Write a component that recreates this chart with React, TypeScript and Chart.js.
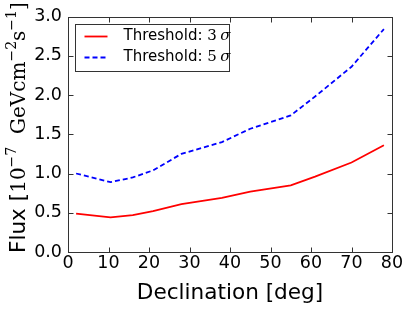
import React, { useEffect, useRef } from "react";
import { Chart, registerables } from "chart.js";

Chart.register(...registerables);

const declination = [2, 10.5, 16, 21, 28, 38, 45, 55, 61, 70, 78];
const flux3 = [0.49, 0.44, 0.47, 0.52, 0.61, 0.69, 0.77, 0.85, 0.96, 1.14, 1.36];
const flux5 = [1.0, 0.89, 0.95, 1.04, 1.25, 1.4, 1.57, 1.74, 1.98, 2.36, 2.84];
const seriesLabels = ["Threshold: 3 σ", "Threshold: 5 σ"];
const xTitle = "Declination [deg]";

const SANS = "'DejaVu Sans', sans-serif";
const SERIF = "'DejaVu Serif', serif";

const framePlugin = {
  id: "framePlugin",
  afterDraw(chart: any) {
    const ctx = chart.ctx;
    const { left, right, top, bottom } = chart.chartArea;
    const xs = chart.scales.x;
    const ys = chart.scales.y;
    ctx.save();
    ctx.strokeStyle = "#333";
    ctx.lineWidth = 1;
    const L = Math.round(left) + 0.5;
    const R = Math.round(right) + 0.5;
    const T = Math.round(top) + 0.5;
    const B = Math.round(bottom) + 0.5;
    ctx.strokeRect(L, T, R - L, B - T);
    const tl = 5;
    ctx.beginPath();
    xs.ticks.forEach((t: any) => {
      const px = Math.round(xs.getPixelForValue(t.value)) + 0.5;
      ctx.moveTo(px, B);
      ctx.lineTo(px, B - tl);
      ctx.moveTo(px, T);
      ctx.lineTo(px, T + tl);
    });
    ys.ticks.forEach((t: any) => {
      const py = Math.round(ys.getPixelForValue(t.value)) + 0.5;
      ctx.moveTo(L, py);
      ctx.lineTo(L + tl, py);
      ctx.moveTo(R, py);
      ctx.lineTo(R - tl, py);
    });
    ctx.stroke();

    // Y axis label with mathtext-like segments
    const segs: Array<{ t: string; f: string; dy: number }> = [
      { t: "Flux [", f: `21.6px ${SANS}`, dy: 0 },
      { t: "10", f: `20px ${SERIF}`, dy: 0 },
      { t: "−7", f: `14px ${SERIF}`, dy: -9 },
      { t: "  GeVcm", f: `20px ${SERIF}`, dy: 0 },
      { t: "−2", f: `14px ${SERIF}`, dy: -9 },
      { t: "s", f: `20px ${SERIF}`, dy: 0 },
      { t: "−1", f: `14px ${SERIF}`, dy: -9 },
      { t: "]", f: `20px ${SERIF}`, dy: 0 },
    ];
    ctx.translate(25, 253);
    ctx.rotate(-Math.PI / 2);
    ctx.fillStyle = "#000";
    ctx.textBaseline = "alphabetic";
    ctx.textAlign = "left";
    let x = 0;
    segs.forEach((s) => {
      ctx.font = s.f;
      ctx.fillText(s.t, x, s.dy);
      x += ctx.measureText(s.t).width;
    });
    ctx.restore();

    // Legend
    ctx.save();
    const bx = Math.round(left) + 7.5;
    const by = Math.round(top) + 7.5;
    const bw = 154;
    const bh = 47;
    ctx.fillStyle = "#fff";
    ctx.fillRect(bx, by, bw, bh);
    ctx.strokeStyle = "#333";
    ctx.lineWidth = 1;
    ctx.strokeRect(bx, by, bw, bh);
    chart.data.datasets.forEach((ds: any, i: number) => {
      const ly = by + 12 + i * 21;
      ctx.strokeStyle = ds.borderColor;
      ctx.lineWidth = ds.borderWidth;
      ctx.setLineDash(ds.borderDash || []);
      ctx.beginPath();
      ctx.moveTo(bx + 9, ly);
      ctx.lineTo(bx + 32, ly);
      ctx.stroke();
      ctx.setLineDash([]);
      const [head, tail] = String(ds.label).split(": ");
      const [num, sym] = tail.split(" ");
      ctx.fillStyle = "#000";
      ctx.textBaseline = "middle";
      let tx = bx + 48;
      ctx.font = `15px ${SANS}`;
      ctx.fillText(head + ": ", tx, ly);
      tx += ctx.measureText(head + ": ").width;
      ctx.font = `15px ${SERIF}`;
      ctx.fillText(num, tx, ly);
      tx += ctx.measureText(num).width + 3.5;
      ctx.font = `italic 15px ${SERIF}`;
      ctx.fillText(sym, tx, ly);
    });
    ctx.restore();
  },
};

export default function App() {
  const ref = useRef<HTMLCanvasElement | null>(null);
  useEffect(() => {
    if (!ref.current) return;
    const chart = new Chart(ref.current, {
      type: "line",
      data: {
        datasets: [
          {
            label: seriesLabels[0],
            data: declination.map((d, i) => ({ x: d, y: flux3[i] })),
            borderColor: "#ff0000",
            borderWidth: 1.8,
            pointRadius: 0,
            tension: 0,
            fill: false,
          },
          {
            label: seriesLabels[1],
            data: declination.map((d, i) => ({ x: d, y: flux5[i] })),
            borderColor: "#0000ff",
            borderWidth: 1.8,
            borderDash: [5, 3],
            pointRadius: 0,
            tension: 0,
            fill: false,
          },
        ],
      },
      options: {
        animation: false,
        responsive: false,
        devicePixelRatio: 1,
        layout: { padding: { top: 13, right: 15, left: 0, bottom: 0 } },
        plugins: { legend: { display: false }, tooltip: { enabled: false } },
        scales: {
          x: {
            type: "linear",
            min: 0,
            max: 80,
            grid: { display: false, drawTicks: false },
            border: { display: false },
            ticks: {
              stepSize: 10,
              color: "#000",
              padding: 1,
              maxRotation: 0,
              font: { family: "DejaVu Sans", size: 17.5 },
            },
            title: {
              display: true,
              text: xTitle,
              color: "#000",
              font: { family: "DejaVu Sans", size: 21.6 },
              padding: { top: 0, bottom: 4 },
            },
            afterFit: (s: any) => {
              s.height = 58;
            },
          },
          y: {
            type: "linear",
            min: 0,
            max: 3,
            grid: { display: false, drawTicks: false },
            border: { display: false },
            ticks: {
              stepSize: 0.5,
              color: "#000",
              padding: 6,
              font: { family: "DejaVu Sans", size: 17.5 },
              callback: (v: any) => Number(v).toFixed(1),
            },
            afterFit: (s: any) => {
              s.width = 68;
            },
          },
        },
      },
      plugins: [framePlugin],
    });
    return () => chart.destroy();
  }, []);
  return (
    <div style={{ position: "absolute", left: 0, top: 0, width: 407, height: 310, background: "#fff" }}>
      <canvas ref={ref} width={407} height={310} />
    </div>
  );
}
